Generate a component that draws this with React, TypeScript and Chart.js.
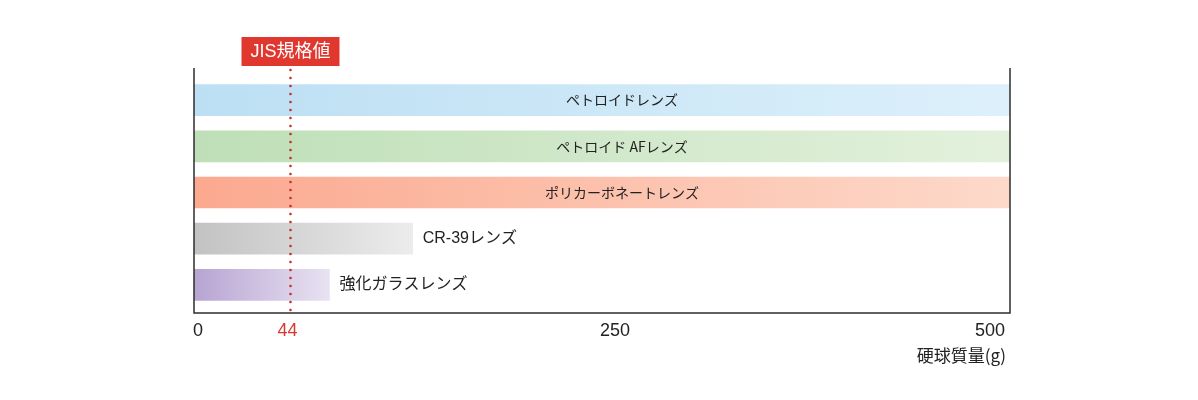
import React, { useEffect, useRef } from 'react';
import { Chart, registerables } from 'chart.js';

Chart.register(...registerables);

const lenses = ['ペトロイドレンズ', 'ペトロイド AFレンズ', 'ポリカーボネートレンズ', 'CR-39レンズ', '強化ガラスレンズ'];
const ballMass = [500, 500, 500, 134, 83];
const tickValues = [0, 250, 500];
const jisTitle = 'JIS規格値';
const jisTick = '44';
// where the reference draws the JIS line (its axis is not to scale there)
const jisMarkAt = 59;
const axisTitle = '硬球質量(g)';

const barColors = [
  ['#bcdff3', '#ddf0fb'],
  ['#bedfb7', '#e3f1dc'],
  ['#fba98f', '#fdd9ca'],
  ['#c2c2c2', '#ececec'],
  ['#b7a4d2', '#e8e2f1'],
];

const JP = '"Noto Sans CJK JP", sans-serif';
const LATIN = '"Liberation Sans", Arial, "Noto Sans CJK JP", sans-serif';

const overlay = {
  id: 'overlay',
  afterDatasetsDraw(chart: any) {
    const { ctx, chartArea, scales } = chart;
    const x = scales.x;
    const y = scales.y;
    const { left, right } = chartArea;
    const top = chartArea.top - 9;
    const base = chartArea.bottom + 5;
    ctx.save();

    // frame
    ctx.strokeStyle = '#2e2e2e';
    ctx.lineWidth = 1.5;
    ctx.beginPath();
    ctx.moveTo(left, top);
    ctx.lineTo(left, base);
    ctx.lineTo(right, base);
    ctx.lineTo(right, top);
    ctx.stroke();

    // bar labels
    ctx.fillStyle = '#222';
    ctx.textBaseline = 'middle';
    ballMass.forEach((v, i) => {
      const cy = y.getPixelForValue(i);
      if (v >= 500) {
        ctx.font = `14px ${JP}`;
        ctx.textAlign = 'center';
        ctx.fillText(lenses[i], x.getPixelForValue(250) + 20, cy);
      } else {
        ctx.font = `16px ${LATIN}`;
        ctx.textAlign = 'left';
        ctx.fillText(lenses[i], x.getPixelForValue(v) + 10, cy);
      }
    });

    // JIS dotted line
    const jx = Math.round(x.getPixelForValue(jisMarkAt)) + 0.5;
    ctx.fillStyle = '#c4302b';
    for (let py = top + 2; py <= base + 2; py += 8) {
      ctx.beginPath();
      ctx.arc(jx, py, 1.3, 0, Math.PI * 2);
      ctx.fill();
    }

    // JIS box
    ctx.fillStyle = '#e0382e';
    ctx.fillRect(jx - 49, top - 31, 98, 29);
    ctx.fillStyle = '#fff';
    ctx.font = `18px ${LATIN}`;
    ctx.textAlign = 'center';
    ctx.fillText(jisTitle, jx, top - 16);

    // ticks
    const ty = base + 18;
    ctx.font = `18px ${LATIN}`;
    ctx.fillStyle = '#222';
    tickValues.forEach((t) => {
      const px = x.getPixelForValue(t);
      if (t === 0) {
        ctx.textAlign = 'left';
        ctx.fillText(String(t), px - 1, ty);
      } else if (t === 500) {
        ctx.textAlign = 'right';
        ctx.fillText(String(t), px - 5, ty);
      } else {
        ctx.textAlign = 'center';
        ctx.fillText(String(t), px + 13, ty);
      }
    });
    ctx.fillStyle = '#d6392f';
    ctx.textAlign = 'center';
    ctx.fillText(jisTick, jx - 3, ty);

    // axis title
    ctx.fillStyle = '#222';
    ctx.font = `17px ${JP}`;
    ctx.textAlign = 'right';
    ctx.fillText(axisTitle, right - 4, base + 43);

    ctx.restore();
  },
};

const LensChart = () => {
  const canvasRef = useRef<HTMLCanvasElement | null>(null);

  useEffect(() => {
    const ctx = canvasRef.current?.getContext('2d') as any;
    const chart = new Chart(ctx, {
      type: 'bar',
      data: {
        labels: lenses,
        datasets: [
          {
            data: ballMass,
            barThickness: 31,
            borderWidth: 0,
            backgroundColor: (c: any) => {
              const ch = c.chart;
              const area = ch.chartArea;
              if (!area) return barColors[c.dataIndex][0];
              const xs = ch.scales.x;
              const x0 = xs.getPixelForValue(0);
              const x1 = xs.getPixelForValue(ballMass[c.dataIndex]);
              const g = ch.ctx.createLinearGradient(x0, 0, x1, 0);
              g.addColorStop(0, barColors[c.dataIndex][0]);
              g.addColorStop(1, barColors[c.dataIndex][1]);
              return g;
            },
          },
        ],
      },
      options: {
        indexAxis: 'y',
        responsive: true,
        maintainAspectRatio: false,
        animation: false,
        layout: {
          padding: { left: 186, right: 180, top: 69, bottom: 84 },
        },
        scales: {
          x: { display: false, min: 0, max: 500 },
          y: { display: false },
        },
        plugins: {
          legend: { display: false },
          tooltip: { enabled: false },
        },
        events: [],
      },
      plugins: [overlay],
    });

    return () => {
      chart.destroy();
    };
  }, [canvasRef]);

  return (
    <div style={{ width: 1182, height: 384, position: 'relative' }}>
      <canvas ref={canvasRef} />
    </div>
  );
};

export default function App() {
  return <LensChart />;
}
